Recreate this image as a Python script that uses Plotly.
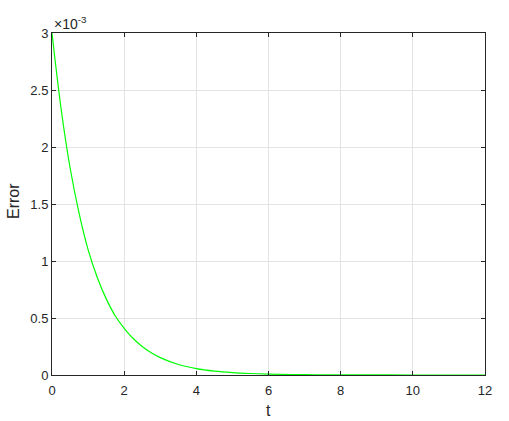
import plotly.graph_objects as go

# valores (Error en unidades de 1e-3)
t = [0, 0.25, 0.5, 0.75, 1, 1.25, 1.5, 1.75, 2, 2.25, 2.5, 2.75, 3, 3.5, 4,
     4.5, 5, 5.5, 6, 7, 8, 10, 12]
error = [3.0, 2.34, 1.82, 1.42, 1.10, 0.86, 0.67, 0.52, 0.41, 0.32, 0.25, 0.195,
         0.152, 0.092, 0.056, 0.034, 0.021, 0.013, 0.008, 0.003, 0.001, 0.0002, 0.0]

x_ticks = [0, 2, 4, 6, 8, 10, 12]
y_ticks = [0, 0.5, 1, 1.5, 2, 2.5, 3]
y_labels = ["0", "0.5", "1", "1.5", "2", "2.5", "3"]

fig = go.Figure()

fig.add_trace(go.Scatter(
    x=t,
    y=error,
    mode='lines',
    line=dict(color='#00ff00', width=1.2, shape='spline', smoothing=1.0),
    showlegend=False
))

axis_style = dict(
    showline=True,
    linecolor='#262626',
    linewidth=1,
    mirror='ticks',
    ticks='inside',
    ticklen=4,
    tickcolor='#262626',
    showgrid=True,
    gridcolor='#e3e3e3',
    gridwidth=1,
    zeroline=False,
    automargin=False,
    tickfont=dict(family='Liberation Sans, Arial', size=13, color='#262626'),
)

fig.update_layout(
    width=509,
    height=421,
    margin=dict(l=52, r=24, t=33, b=46),
    paper_bgcolor='white',
    plot_bgcolor='white',
    font=dict(family='Liberation Sans, Arial', color='#262626'),
    xaxis=dict(
        range=[0, 12],
        tickvals=x_ticks,
        ticklabelstandoff=3,
        **axis_style
    ),
    yaxis=dict(
        range=[0, 3],
        tickvals=y_ticks,
        ticktext=y_labels,
        **axis_style
    ),
    annotations=[
        dict(
            text='\u00d710<sup>-3</sup>',
            xref='paper', yref='paper',
            x=0, y=1,
            xanchor='left', yanchor='bottom',
            showarrow=False,
            font=dict(size=14, color='#262626'),
            yshift=-1
        ),
        # titulos de los ejes
        dict(
            text='t',
            xref='paper', yref='paper',
            x=0.5, y=0,
            xanchor='center', yanchor='middle',
            showarrow=False,
            font=dict(size=16, color='#262626'),
            yshift=-35
        ),
        dict(
            text='Error',
            xref='paper', yref='paper',
            x=0, y=0.5,
            xanchor='center', yanchor='middle',
            textangle=-90,
            showarrow=False,
            font=dict(size=16, color='#262626'),
            xshift=-39, yshift=3
        ),
    ]
)

# quitar el margen por defecto del body para que la figura ocupe toda la ventana
fig.write_html("out.html", config={'displayModeBar': False},
               post_script="document.body.style.margin='0';")
